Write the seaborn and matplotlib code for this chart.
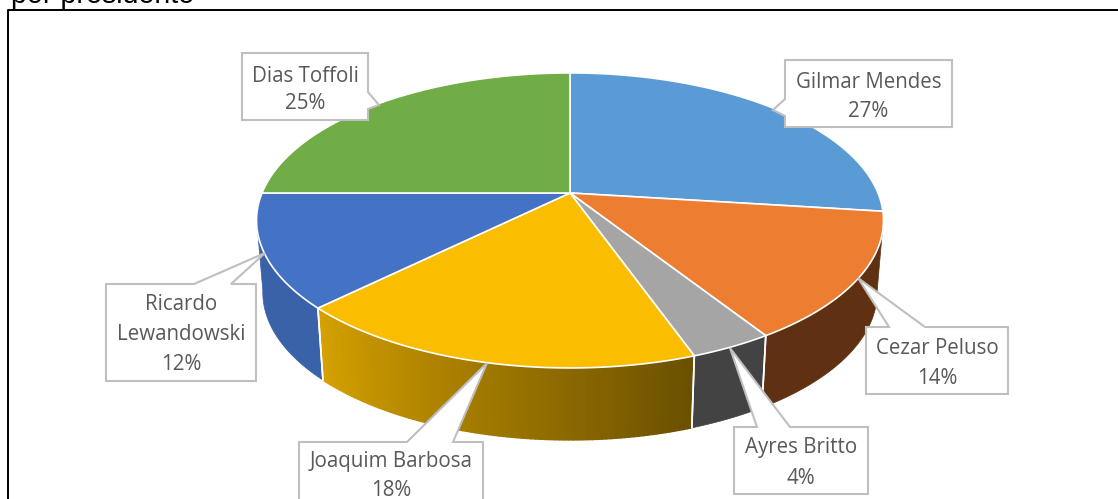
import numpy as np
import matplotlib
matplotlib.use('Agg')
import matplotlib.pyplot as plt
import seaborn as sns

sns.set_theme(style='white')
plt.rcParams['font.family'] = ['Open Sans', 'DejaVu Sans']

# slices, clockwise from twelve o'clock
names = ['Gilmar Mendes', 'Cezar Peluso', 'Ayres Britto', 'Joaquim Barbosa', 'Ricardo\nLewandowski', 'Dias Toffoli']
shares = [27.0, 14.0, 3.6, 18.0, 12.4, 25.0]
pct_labels = ['27%', '14%', '4%', '18%', '12%', '25%']
top_colors = ['#5b9bd5', '#ed7d31', '#a5a5a5', '#fbbd00', '#4472c4', '#70ad47']
wall_from = ['#3a6d9c', '#5f3112', '#434343', '#d6a100', '#3a62a8', '#4c7a30']
wall_to = ['#3a6d9c', '#5f3112', '#434343', '#6b5000', '#3a62a8', '#4c7a30']

# callout box: left, top, right, bottom, then the pointer (base, tip, base)
boxes = [
    (785, 60, 952, 127, [(785, 116), (773, 110), (785, 99)]),
    (866, 327, 1008, 394, [(889, 327), (858, 278), (925, 327)]),
    (734, 427, 868, 494, [(757, 427), (730, 348), (790, 427)]),
    (299, 442, 483, 510, [(407, 442), (487, 363), (453, 442)]),
    (106, 284, 256, 381, [(194, 284), (265, 253), (231, 284)]),
    (242, 53, 368, 120, [(368, 92), (379, 105), (368, 109)]),
]
text_y = [(82, 111), (349, 378), (448, 478), (462, 490), (305, 335, 364), (76, 103)]

# projection of the tilted disc on to the picture
cx, cy = 570, 193
rx, ry, persp = 308, 142.4, 0.186
depth, shrink = 72, 0.98


def rim(theta):
    u, v = np.cos(np.radians(theta)), np.sin(np.radians(theta))
    d = 1 + persp * v
    return cx + rx * u / d, cy - ry * v / d


fig, ax = plt.subplots(figsize=(11.18, 4.99), dpi=100)
fig.subplots_adjust(0, 0, 1, 1)

# let pie work out the angles, then lay them on the tilted disc
wedges, _ = ax.pie(shares, startangle=90, counterclock=False)
spans = [(w.theta1, w.theta2) for w in wedges]
for w in wedges:
    w.remove()
ax.set_aspect('auto')
ax.set_xlim(0, 1118)
ax.set_ylim(499, 0)
ax.axis('off')

# side wall, front half only
for (t1, t2), c1, c2 in zip(spans, wall_from, wall_to):
    t = np.linspace(t1, t2, 90)
    t_mod = np.mod(t, 360)
    t = t[(t_mod > 190) & (t_mod < 350)]
    if len(t) < 2:
        continue
    x, y = rim(t)
    xb = cx + (x - cx) * shrink
    yb = y + depth
    if c1 == c2:
        ax.fill(np.r_[x, xb[::-1]], np.r_[y, yb[::-1]], color=c1, lw=0.5, zorder=2)
    else:
        shades = sns.blend_palette([c1, c2], len(t) - 1)
        for i in range(len(t) - 1):
            ax.fill([x[i], x[i + 1], xb[i + 1], xb[i]], [y[i], y[i + 1], yb[i + 1], yb[i]],
                    color=shades[i], lw=1.0, zorder=2)
    for edge in (t1, t2):
        if 190 < np.mod(edge, 360) < 350:
            ex, ey = rim(edge)
            ax.plot([ex, cx + (ex - cx) * shrink], [ey, ey + depth], color='white', lw=1.2, zorder=3)

# top face
for (t1, t2), col in zip(spans, top_colors):
    t = np.linspace(t1, t2, 120)
    x, y = rim(t)
    ax.fill(np.r_[cx, x], np.r_[cy, y], facecolor=col, edgecolor='white', lw=1.2, zorder=4)

# callouts
for (l, tp, r, b, ptr), name, pct, ys in zip(boxes, names, pct_labels, text_y):
    px, py = zip(*ptr)
    if py[0] == tp:
        xs = [l, px[0], px[1], px[2], r, r, l]
        yy = [tp, tp, py[1], tp, tp, b, b]
    elif px[0] == r:
        xs = [l, r, r, px[1], r, r, l]
        yy = [tp, tp, py[0], py[1], py[2], b, b]
    else:
        xs = [l, r, r, l, l, px[1], l]
        yy = [tp, tp, b, b, py[0], py[1], py[2]]
    ax.fill(xs, yy, facecolor='white', edgecolor='#bfbfbf', lw=1.5, zorder=5)
    lines = name.split('\n') + [pct]
    for line, ty in zip(lines, ys):
        ax.text((l + r) / 2, ty, line, ha='center', va='center', fontsize=14.8,
                color='#595959', zorder=6)

# frame and the line of caption cut off above it
ax.plot([1130, 8, 8], [10, 10, 510], color='black', lw=1.4, zorder=7)
ax.text(11, 3, 'por presidente', ha='left', va='baseline', fontsize=20.6,
        family=['Liberation Sans'], color='black', zorder=1)

fig.savefig('out.png', dpi=100, facecolor='white')
